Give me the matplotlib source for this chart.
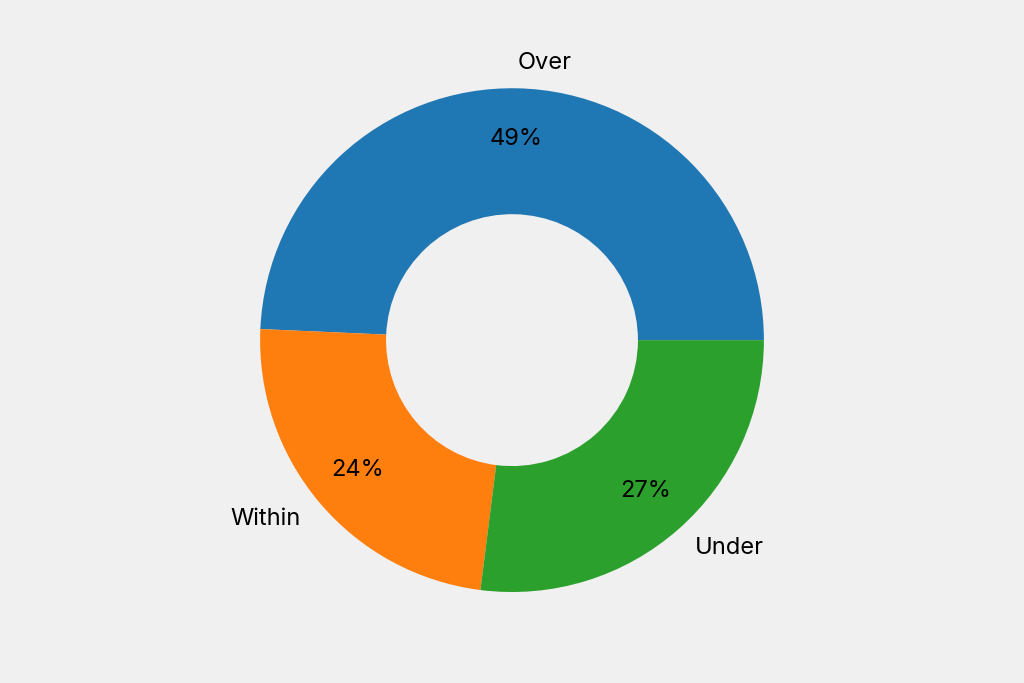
import matplotlib
matplotlib.use("Agg")
import matplotlib.pyplot as plt

# donut chart: share of cases over / within / under
labels = ["Over", "Within", "Under"]
values = [49.3, 23.7, 27.0]
colors = ["#1f77b4", "#ff7f0e", "#2ca02c"]

plt.rcParams['font.family'] = ['Inter', 'DejaVu Sans']

fig = plt.figure(figsize=(10.24, 6.83), dpi=100)
fig.patch.set_facecolor("#f0f0f0")
ax = fig.add_axes([0, 0.041, 1, 0.922])
ax.set_facecolor("#f0f0f0")

wedges, texts, autotexts = ax.pie(values, labels=labels, colors=colors,
                                  autopct="%1.0f%%", startangle=0,
                                  pctdistance=0.8, labeldistance=1.1,
                                  wedgeprops=dict(width=0.5),
                                  textprops=dict(fontsize=17, color="black"))
ax.set_aspect("equal")

fig.savefig("out.png", dpi=100, facecolor=fig.get_facecolor())
